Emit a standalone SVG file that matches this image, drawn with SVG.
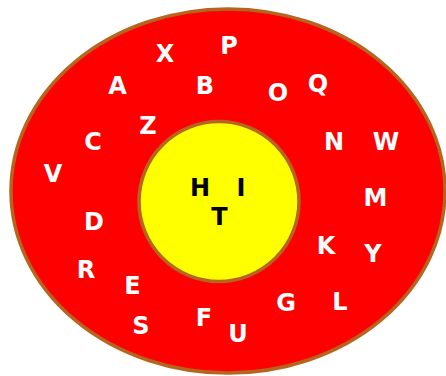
<svg xmlns="http://www.w3.org/2000/svg" width="446" height="376" viewBox="0 0 446 376">
<style>
text{font-family:"DejaVu Sans",Verdana,sans-serif;font-weight:bold;font-size:24px;text-anchor:middle}
.o{fill:#ffffff}
.i{fill:#000000}
.ring{stroke:#b5651d;stroke-width:3.5}
</style>
<g id="outer">
<ellipse class="ring" cx="228" cy="191" rx="217" ry="182" fill="#ff0000"/>
<text class="o" x="165" y="62">X</text>
<text class="o" x="229" y="54">P</text>
<text class="o" x="117.5" y="94">A</text>
<text class="o" x="205" y="94">B</text>
<text class="o" x="278" y="101">O</text>
<text class="o" x="318" y="92">Q</text>
<text class="o" x="148" y="134">Z</text>
<text class="o" x="93" y="150">C</text>
<text class="o" x="334" y="150">N</text>
<text class="o" x="386" y="150">W</text>
<text class="o" x="53" y="182">V</text>
<text class="o" x="375.5" y="206">M</text>
<text class="o" x="94" y="230">D</text>
<text class="o" x="326" y="254">K</text>
<text class="o" x="373" y="262">Y</text>
<text class="o" x="86" y="278">R</text>
<text class="o" x="132.5" y="294">E</text>
<text class="o" x="286" y="311">G</text>
<text class="o" x="340" y="310">L</text>
<text class="o" x="141" y="334">S</text>
<text class="o" x="204" y="326">F</text>
<text class="o" x="238" y="342">U</text>
</g>
<g id="inner">
<circle class="ring" cx="219" cy="201.5" r="80" fill="#ffff00"/>
<text class="i" x="200" y="196">H</text>
<text class="i" x="241" y="196">I</text>
<text class="i" x="219.5" y="225">T</text>
</g>
</svg>
